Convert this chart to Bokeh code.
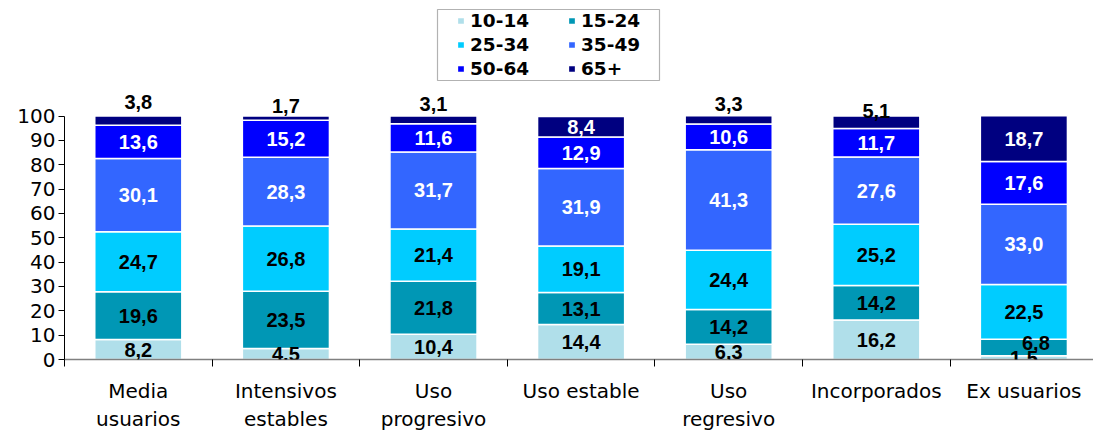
from bokeh.plotting import figure
from bokeh.models import (ColumnDataSource, Range1d, FixedTicker, Legend, LegendItem,
                          LabelSet, BoxAnnotation)
from bokeh.core.properties import value
from bokeh.embed import file_html
from bokeh.resources import INLINE

# --- data -------------------------------------------------------------------
categories = ["Media\nusuarios", "Intensivos\nestables", "Uso\nprogresivo",
              "Uso estable", "Uso\nregresivo", "Incorporados", "Ex usuarios"]
age_groups = ["10-14", "15-24", "25-34", "35-49", "50-64", "65+"]
age_10_14 = [8.2, 4.5, 10.4, 14.4, 6.3, 16.2, 1.5]
age_15_24 = [19.6, 23.5, 21.8, 13.1, 14.2, 14.2, 6.8]
age_25_34 = [24.7, 26.8, 21.4, 19.1, 24.4, 25.2, 22.5]
age_35_49 = [30.1, 28.3, 31.7, 31.9, 41.3, 27.6, 33.0]
age_50_64 = [13.6, 15.2, 11.6, 12.9, 10.6, 11.7, 17.6]
age_65_plus = [3.8, 1.7, 3.1, 8.4, 3.3, 5.1, 18.7]
y_ticks = [0, 10, 20, 30, 40, 50, 60, 70, 80, 90, 100]

series = [age_10_14, age_15_24, age_25_34, age_35_49, age_50_64, age_65_plus]

# --- styling ----------------------------------------------------------------
colors = ["#B0DFEA", "#0097B5", "#00CCFF", "#3366FF", "#0000FF", "#000080"]
label_colors = ["black", "black", "black", "white", "white", "white"]
LABEL_FONT = "Liberation Sans"
AXIS_FONT = "DejaVu Sans"
BAR_WIDTH = 0.59
SMALL_TOP = 6.0           # top segments thinner than this get their label above the bar
top_label_lift = [14, 10, 12, 0, 12, 5, 0]   # px above the stack for small top segments
nudges = {(1, 6): (12, 5)}                   # (series, bar) -> (dx, dy) in px

n = len(categories)
xs = [i + 0.5 for i in range(n)]

p = figure(width=1093, height=434,
           x_range=Range1d(0, 1029 / 147.6), y_range=Range1d(0, 147.5),
           output_backend="svg", toolbar_location=None,
           min_border_left=64, min_border_right=0, min_border_top=0, min_border_bottom=75)
p.outline_line_color = None
p.xgrid.visible = False
p.ygrid.visible = False
p.background_fill_color = "white"
p.border_fill_color = "white"

# --- stacked bars -----------------------------------------------------------
bottoms = [0.0] * n
renderers = []
lab_x, lab_y, lab_t, lab_c, lab_dx, lab_dy = [], [], [], [], [], []
for s_idx, (vals, col) in enumerate(zip(series, colors)):
    tops = [b + v for b, v in zip(bottoms, vals)]
    src = ColumnDataSource(dict(x=xs, bottom=list(bottoms), top=tops))
    r = p.vbar(x="x", bottom="bottom", top="top", width=BAR_WIDTH, source=src,
               fill_color=col, line_color="white", line_width=1.5)
    renderers.append(r)
    for i, v in enumerate(vals):
        text = f"{v:.1f}".replace(".", ",")
        dx, dy = nudges.get((s_idx, i), (0, 0))
        if s_idx == len(series) - 1 and v < SMALL_TOP:
            y = tops[i]
            dy += top_label_lift[i]
            c = "black"
        else:
            y = bottoms[i] + v / 2
            c = label_colors[s_idx]
        lab_x.append(xs[i]); lab_y.append(y); lab_t.append(text)
        lab_c.append(c); lab_dx.append(dx); lab_dy.append(dy)
    bottoms = tops

labels = LabelSet(x="x", y="y", text="t", text_color="c", x_offset="dx", y_offset="dy",
                  source=ColumnDataSource(dict(x=lab_x, y=lab_y, t=lab_t, c=lab_c,
                                               dx=lab_dx, dy=lab_dy)),
                  text_align="center", text_baseline="middle",
                  text_font=value(LABEL_FONT), text_font_style="bold",
                  text_font_size="20px", level="overlay")
p.add_layout(labels)

# --- axes -------------------------------------------------------------------
xa = p.xaxis[0]
xa.ticker = FixedTicker(ticks=xs, minor_ticks=list(range(n + 1)))
xa.major_label_overrides = {x: c for x, c in zip(xs, categories)}
xa.major_tick_out = 0
xa.major_tick_in = 0
xa.minor_tick_out = 7
xa.minor_tick_in = 0
xa.minor_tick_line_color = "black"
xa.axis_line_color = "#808080"
xa.axis_line_width = 1.5
xa.major_label_standoff = 12
xa.major_label_text_font = AXIS_FONT
xa.major_label_text_font_size = "20px"
xa.major_label_text_color = "black"

ya = p.yaxis[0]
ya.ticker = FixedTicker(ticks=y_ticks, minor_ticks=[])
ya.bounds = (0, 100)
ya.major_tick_out = 6
ya.major_tick_in = 0
ya.minor_tick_out = 0
ya.minor_tick_in = 0
ya.axis_line_color = "black"
ya.major_tick_line_color = "black"
ya.major_label_standoff = 3
ya.major_label_text_font = AXIS_FONT
ya.major_label_text_font_size = "20px"
ya.major_label_text_color = "black"

# --- legend -----------------------------------------------------------------
legend = Legend(items=[LegendItem(label=g, renderers=[r]) for g, r in zip(age_groups, renderers)],
                orientation="horizontal", ncols=2,
                location=(392, 280),
                glyph_width=9, glyph_height=9, label_standoff=5,
                label_width=94, label_height=20, spacing=3, padding=6, margin=0,
                label_text_font=AXIS_FONT, label_text_font_style="bold",
                label_text_font_size="18.5px", label_text_color="black",
                border_line_color=None, background_fill_alpha=0)
p.add_layout(legend)

# legend frame, in screen px measured from the plot frame's bottom-left corner
frame_box = BoxAnnotation(left=373, right=595, top=350, bottom=279,
                          left_units="screen", right_units="screen",
                          top_units="screen", bottom_units="screen",
                          fill_alpha=0, line_color="black", line_width=1.2, level="overlay")
p.add_layout(frame_box)

open("out.html", "w").write(file_html(p, INLINE))
